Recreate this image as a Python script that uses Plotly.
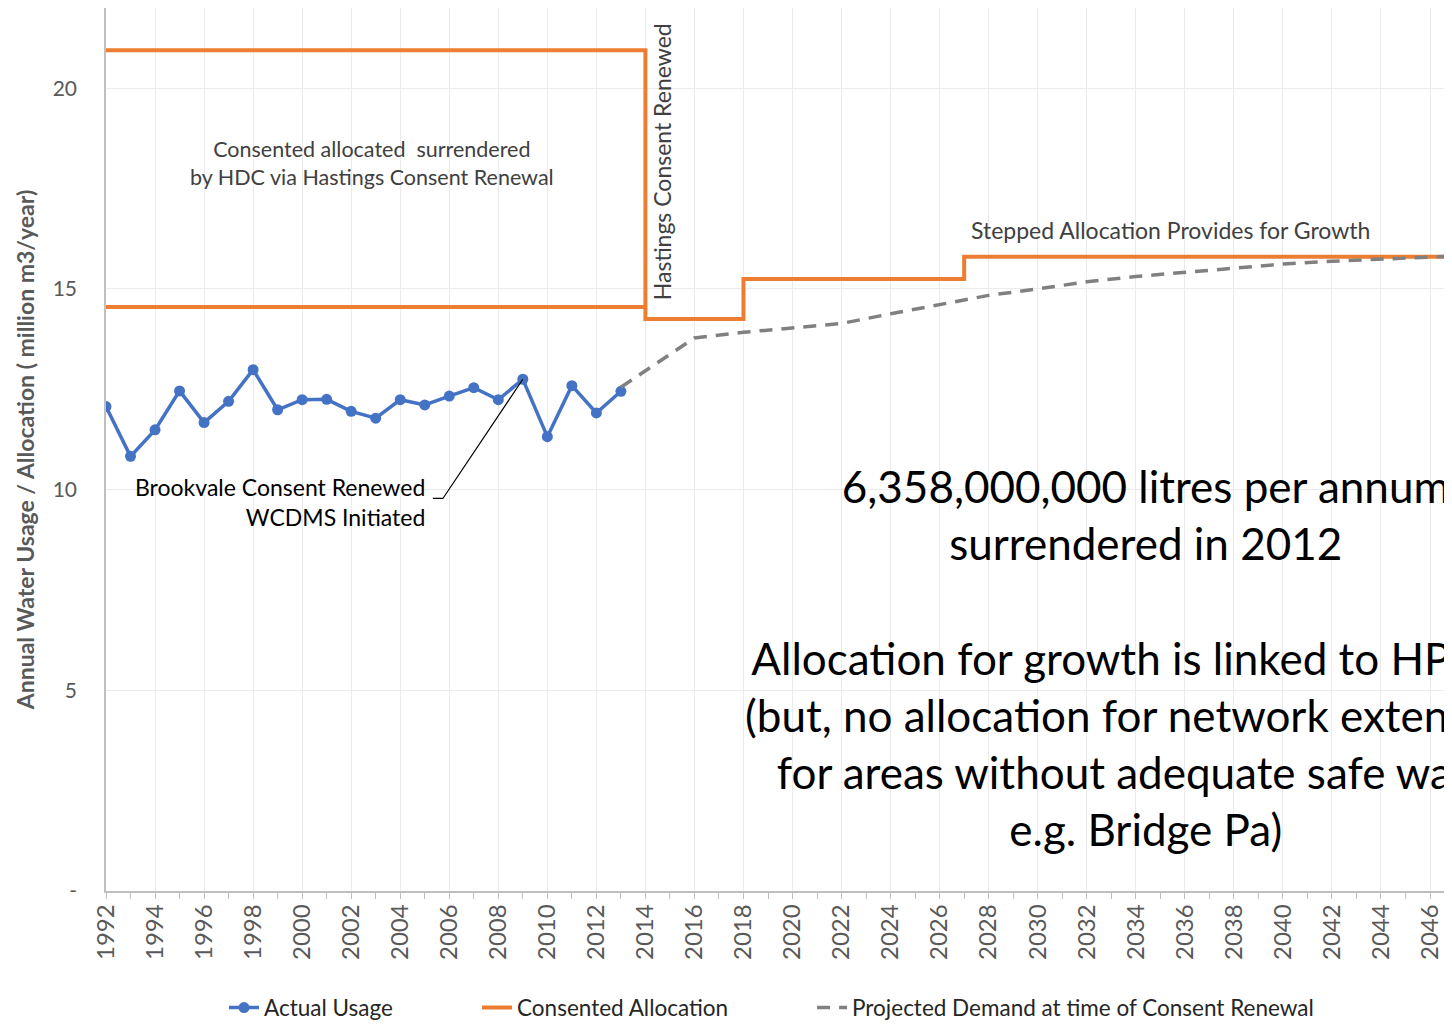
"""
Water usage vs consented allocation, 1992-2046.
"""
import plotly.graph_objects as go

# actual annual usage (million m3/year)
usage_years = list(range(1992, 2014))
usage_vals = [12.07, 10.83, 11.49, 12.46, 11.67, 12.20, 12.99, 11.99, 12.24, 12.25,
              11.95, 11.78, 12.24, 12.11, 12.33, 12.54, 12.24, 12.75, 11.32, 12.59,
              11.91, 12.45]

# consented allocation, stepped (value holds until the next year in the list)
alloc_years = [1992, 2014, 2018, 2027, 2047]
alloc_vals = [20.95, 14.25, 15.25, 15.80, 15.80]

# old allocation less the surrendered amount
base_years = [1992, 2014]
base_vals = [14.55, 14.55]

# projected demand at time of consent renewal
proj_years = [2013, 2016, 2018, 2020, 2022, 2024, 2026, 2028, 2030, 2032, 2034,
              2036, 2038, 2040, 2042, 2044, 2046, 2047]
proj_vals = [12.55, 13.78, 13.92, 14.02, 14.14, 14.38, 14.62, 14.84, 15.00, 15.18,
             15.31, 15.42, 15.53, 15.62, 15.69, 15.75, 15.80, 15.82]

y_ticks = [0, 5, 10, 15, 20]
y_ticktext = ["-", "5", "10", "15", "20"]

FONT = "Lato, 'Open Sans', sans-serif"
GREY = "#595959"


def main():
    fig = go.Figure()
    fig.add_trace(go.Scatter(
        x=usage_years, y=usage_vals, name="Actual Usage", mode="lines+markers",
        line=dict(color="#4472C4", width=3.5), marker=dict(size=11, color="#4472C4"),
        legend="legend",
    ))
    fig.add_trace(go.Scatter(
        x=alloc_years, y=alloc_vals, name="Consented Allocation", mode="lines",
        line=dict(color="#ED7D31", width=4, shape="hv"), legend="legend2",
    ))
    fig.add_trace(go.Scatter(
        x=base_years, y=base_vals, mode="lines", showlegend=False,
        line=dict(color="#ED7D31", width=4),
    ))
    fig.add_trace(go.Scatter(
        x=proj_years, y=proj_vals, name="Projected Demand at time of Consent Renewal",
        mode="lines", line=dict(color="#808080", width=3.5, dash="13px,9px"),
        legend="legend3",
    ))

    # leader from the Brookvale note to the 2009 point
    fig.add_shape(
        type="path", xref="x", yref="y",
        path=f"M 2005.33 9.78 L 2005.74 9.78 L {usage_years[17]} {usage_vals[17]}",
        line=dict(color="black", width=1.2),
    )

    notes = [
        dict(x=2002.85, y=18.15, text="Consented allocated  surrendered<br>by HDC via Hastings Consent Renewal",
             font=dict(size=21.5, color="#404040")),
        dict(x=2014.68, y=18.16, text="Hastings Consent Renewed", textangle=-90,
             font=dict(size=23, color="#404040")),
        dict(x=2035.4, y=16.48, text="Stepped Allocation Provides for Growth",
             font=dict(size=23, color="#404040")),
        dict(x=2005.09, y=9.70, text="Brookvale Consent Renewed<br>WCDMS Initiated",
             xanchor="right", align="right", font=dict(size=23, color="black")),
        dict(x=2034.41, y=5.83,
             text="6,358,000,000 litres per annum<br>surrendered in 2012<br><br>"
                  "Allocation for growth is linked to HPUDS<br>"
                  "(but, no allocation for network extensions<br>"
                  "for areas without adequate safe water,<br>e.g. Bridge Pa)",
             font=dict(size=44, color="black")),
    ]
    for n in notes:
        fig.add_annotation(xref="x", yref="y", showarrow=False, font_family=FONT, **n)

    leg = dict(orientation="h", xanchor="left", y=-0.1325, yanchor="middle",
               font=dict(size=22.5, color="#262626"), bgcolor="rgba(0,0,0,0)")

    # the page body adds an 8px margin all round, so keep the figure inside the window
    fig.update_layout(
        width=1436, height=1015,
        margin=dict(l=98, r=0, t=0, b=132, autoexpand=False),
        paper_bgcolor="white", plot_bgcolor="white",
        font=dict(family=FONT, color=GREY),
        showlegend=True,
        legend=dict(leg, x=0.0882),
        legend2=dict(leg, x=0.2773),
        legend3=dict(leg, x=0.5277),
        xaxis=dict(
            range=[1992, 2046.57], tickmode="linear", tick0=1992, dtick=2,
            tickangle=-90, tickfont=dict(size=24, color=GREY),
            ticks="outside", ticklen=6, tickcolor="#bfbfbf", ticklabelstandoff=-4,
            minor=dict(dtick=1, ticks="outside", ticklen=6, tickcolor="#bfbfbf", showgrid=False),
            showgrid=True, gridcolor="#ebebeb", gridwidth=1,
            showline=True, linecolor="#bfbfbf", linewidth=1.5, zeroline=False,
            automargin=False,
        ),
        yaxis=dict(
            range=[0, 22], tickvals=y_ticks, ticktext=y_ticktext,
            tickfont=dict(size=21, color=GREY),
            ticks="outside", ticklen=23, tickcolor="rgba(0,0,0,0)",
            showgrid=True, gridcolor="#ebebeb", gridwidth=1,
            showline=True, linecolor="#bfbfbf", linewidth=1.5, zeroline=False,
            automargin=False,
            title=dict(text="<b>Annual Water Usage / Allocation ( million m3/year)</b>",
                       font=dict(size=23, color=GREY), standoff=12),
        ),
    )

    fig.write_html("out.html")


if __name__ == "__main__":
    main()
